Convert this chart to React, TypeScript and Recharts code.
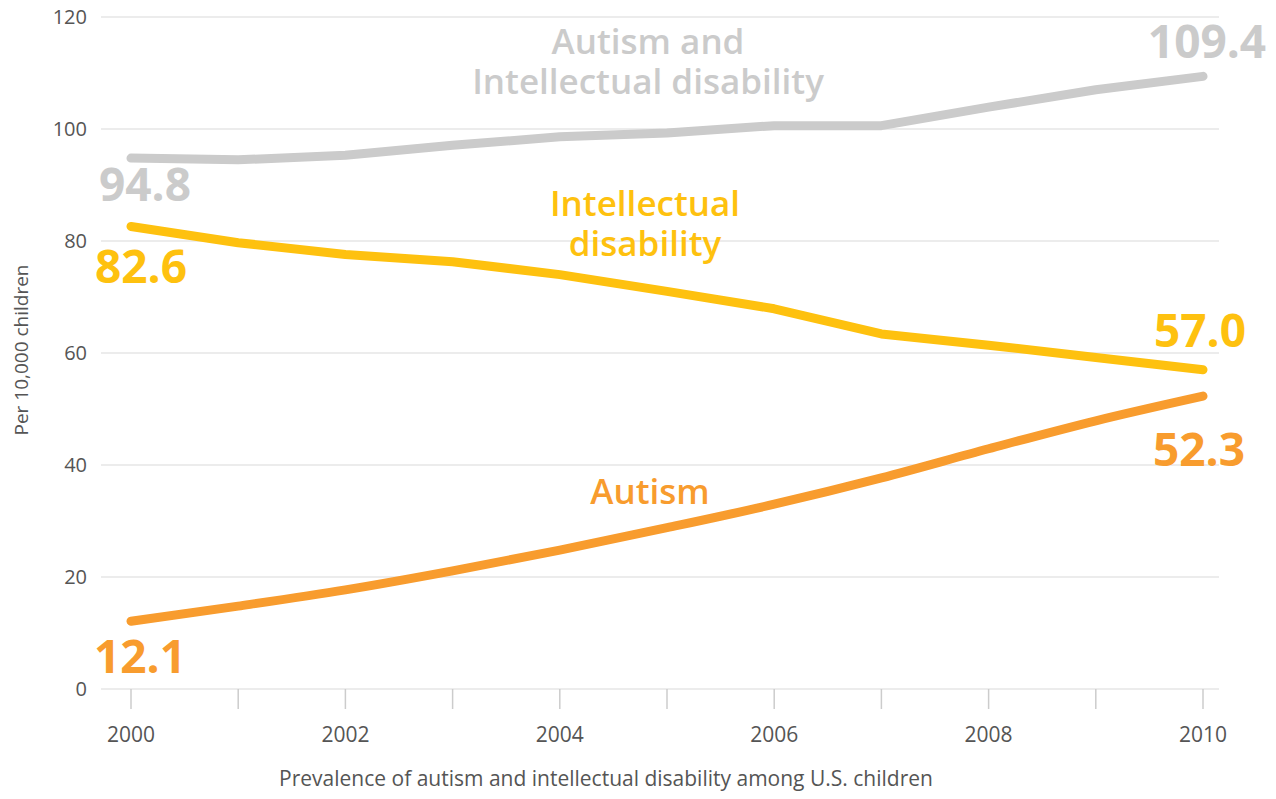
import React from 'react';
import { LineChart, Line, XAxis, YAxis, CartesianGrid, ReferenceDot, Label } from 'recharts';

const years = [2000, 2001, 2002, 2003, 2004, 2005, 2006, 2007, 2008, 2009, 2010];
const autismAndId = [94.8, 94.5, 95.3, 97.1, 98.6, 99.3, 100.6, 100.6, 103.9, 107.0, 109.4];
const intellectual = [82.6, 79.7, 77.6, 76.3, 74.0, 71.0, 67.9, 63.4, 61.4, 59.2, 57.0];
const autism = [12.1, 14.8, 17.7, 21.1, 24.8, 28.8, 33.0, 37.7, 42.9, 47.9, 52.3];
const yTicks = [0, 20, 40, 60, 80, 100, 120];
const xTicks = years;

const GRAY = '#cbcbcb';
const YELLOW = '#fec10f';
const ORANGE = '#f89c2e';
const FONT = '"Open Sans", Lato, sans-serif';
const TEXT = '#555555';

const data = years.map((y, i) => ({
  year: y,
  both: autismAndId[i],
  id: intellectual[i],
  autism: autism[i],
}));

const last = years.length - 1;

const numText = (value: number, color: string, dx: number, dy: number) => (props: any) => (
  <text
    x={props.cx + dx}
    y={props.cy + dy}
    textAnchor="middle"
    fill={color}
    fontFamily={FONT}
    fontWeight={700}
    fontSize={46}
  >
    {value.toFixed(1)}
  </text>
);

const titleText = (lines: string[], color: string, dx: number, dy: number) => (props: any) => (
  <text
    x={props.cx + dx}
    y={props.cy + dy}
    textAnchor="middle"
    fill={color}
    fontFamily={FONT}
    fontWeight={600}
    fontSize={35}
  >
    {lines.map((l, i) => (
      <tspan key={i} x={props.cx + dx} dy={i === 0 ? 0 : 40}>
        {l}
      </tspan>
    ))}
  </text>
);

export default function App() {
  return (
    <div style={{ position: 'absolute', left: 0, top: 0, width: 1276, height: 799, background: '#fff' }}>
      <LineChart
        width={1276}
        height={799}
        data={data}
        margin={{ top: 17, right: 57, bottom: 50, left: 41 }}
      >
        <CartesianGrid horizontal vertical={false} stroke="#e6e6e6" strokeWidth={1.5} />
        <XAxis
          dataKey="year"
          type="number"
          domain={[2000, 2010]}
          ticks={xTicks}
          interval={0}
          padding={{ left: 30, right: 16 }}
          tickFormatter={(v: number) => (v % 2 === 0 ? String(v) : '')}
          axisLine={false}
          tickLine={{ stroke: '#cccccc', strokeWidth: 1.5 }}
          tickSize={20}
          tickMargin={18}
          height={60}
          tick={{ fill: TEXT, fontSize: 21, fontFamily: FONT }}
        >
          <Label
            content={(p: any) => (
              <text
                x={p.viewBox.x + p.viewBox.width / 2 - 54}
                y={p.viewBox.y + 97}
                textAnchor="middle"
                fill={TEXT}
                fontFamily={FONT}
                fontSize={21}
              >
                Prevalence of autism and intellectual disability among U.S. children
              </text>
            )}
          />
        </XAxis>
        <YAxis
          type="number"
          domain={[0, 120]}
          ticks={yTicks}
          interval={0}
          axisLine={false}
          tickLine={false}
          tickSize={0}
          tickMargin={14}
          width={60}
          tick={{ fill: TEXT, fontSize: 20, fontFamily: FONT }}
        >
          <Label
            content={(p: any) => {
              const cx = 28;
              const cy = p.viewBox.y + p.viewBox.height / 2 - 3;
              return (
                <text
                  x={cx}
                  y={cy}
                  transform={`rotate(-90 ${cx} ${cy})`}
                  textAnchor="middle"
                  fill={TEXT}
                  fontFamily={FONT}
                  fontSize={19}
                >
                  Per 10,000 children
                </text>
              );
            }}
          />
        </YAxis>
        <Line type="linear" dataKey="both" stroke={GRAY} strokeWidth={9} strokeLinecap="round" strokeLinejoin="round" dot={false} isAnimationActive={false} />
        <Line type="linear" dataKey="id" stroke={YELLOW} strokeWidth={9} strokeLinecap="round" strokeLinejoin="round" dot={false} isAnimationActive={false} />
        <Line type="monotone" dataKey="autism" stroke={ORANGE} strokeWidth={9} strokeLinecap="round" strokeLinejoin="round" dot={false} isAnimationActive={false} />

        <ReferenceDot x={years[0]} y={autismAndId[0]} r={0} shape={numText(autismAndId[0], GRAY, 14, 43)} />
        <ReferenceDot x={years[last]} y={autismAndId[last]} r={0} shape={numText(autismAndId[last], GRAY, 4, -18)} />
        <ReferenceDot x={years[0]} y={intellectual[0]} r={0} shape={numText(intellectual[0], YELLOW, 10, 57)} />
        <ReferenceDot x={years[last]} y={intellectual[last]} r={0} shape={numText(intellectual[last], YELLOW, -3, -23)} />
        <ReferenceDot x={years[0]} y={autism[0]} r={0} shape={numText(autism[0], ORANGE, 9, 52)} />
        <ReferenceDot x={years[last]} y={autism[last]} r={0} shape={numText(autism[last], ORANGE, -4, 70)} />

        <ReferenceDot x={years[5]} y={autismAndId[5]} r={0} shape={titleText(['Autism and', 'Intellectual disability'], GRAY, -19, -79)} />
        <ReferenceDot x={years[5]} y={intellectual[5]} r={0} shape={titleText(['Intellectual', 'disability'], YELLOW, -22, -75)} />
        <ReferenceDot x={years[5]} y={autism[5]} r={0} shape={titleText(['Autism'], ORANGE, -17, -24)} />
      </LineChart>
    </div>
  );
}
